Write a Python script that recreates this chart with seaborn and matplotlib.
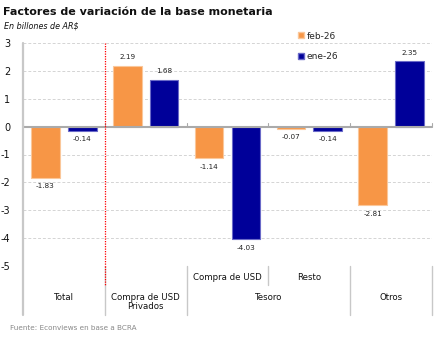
import matplotlib
matplotlib.use("Agg")
import matplotlib.pyplot as plt
import seaborn as sns
import pandas as pd
import numpy as np
from matplotlib.lines import Line2D

categories = ["Total", "Compra de USD Privados", "Tesoro: Compra de USD", "Tesoro: Resto", "Otros"]
feb_26 = [-1.83, 2.19, -1.14, -0.07, -2.81]
ene_26 = [-0.14, 1.68, -4.03, -0.14, 2.35]
series = ["feb-26", "ene-26"]
colors = {"feb-26": "#F79646", "ene-26": "#000099"}
edges = {"feb-26": "#FAC79A", "ene-26": "#6A6AC8"}
yticks = [3, 2, 1, 0, -1, -2, -3, -4, -5]

df = pd.DataFrame({
    "cat": categories * 2,
    "serie": [series[0]] * len(categories) + [series[1]] * len(categories),
    "val": feb_26 + ene_26,
})

sns.set_theme(style="white")
plt.rcParams['font.family'] = ['DejaVu Sans']

W, H = 443, 340
fig = plt.figure(figsize=(W / 100, H / 100), dpi=100)
ax = fig.add_axes([23 / W, 1 - 266 / H, (432 - 23) / W, (266 - 43) / H])

sns.barplot(data=df, x="cat", y="val", hue="serie", order=categories, hue_order=series,
            palette=colors, width=0.9, gap=0.22, ax=ax, legend=False, saturation=1,
            linewidth=0.8)

n = len(categories)
for i, p in enumerate(ax.patches[:2 * n]):
    p.set_edgecolor(edges[series[i // n]])

for i, p in enumerate(ax.patches[:2 * n]):
    v = p.get_height()
    xc = p.get_x() + p.get_width() / 2
    if v >= 0:
        ax.annotate(f"{v:.2f}", (xc, v), xytext=(0, 4), textcoords="offset points",
                    ha="center", va="bottom", fontsize=5.2, color="#222222")
    else:
        ax.annotate(f"{v:.2f}", (xc, v), xytext=(0, -4), textcoords="offset points",
                    ha="center", va="top", fontsize=5.2, color="#222222")

ax.set_xlim(-0.5, n - 0.5)
ax.set_ylim(-5, 3)
ax.set_yticks(yticks)
ax.set_yticklabels([str(t) for t in yticks], fontsize=7, color="#111111")
ax.tick_params(axis="y", length=3, width=0.8, color="#bbbbbb", pad=6)
ax.set_xticks([])
ax.set_xlabel("")
ax.set_ylabel("")
for t in yticks:
    if t != 0:
        ax.axhline(t, color="#d4d4d4", lw=0.7, ls=(0, (3, 2)), zorder=0)
ax.axhline(0, color="#aaaaaa", lw=1.5, zorder=3)
for sp in ["top", "right", "bottom", "left"]:
    ax.spines[sp].set_visible(False)

for b in np.arange(-0.5, n, 1.0):
    ax.plot([b, b], [0, 0.12], color="#aaaaaa", lw=0.8, zorder=3, clip_on=False)

ax.plot([0.5, 0.5], [3, -5], color="#ff0000", lw=0.9, ls=(0, (1, 1)), zorder=4, clip_on=False)

trans = ax.get_xaxis_transform()
px = 1 / (266 - 43)
ax.plot([-0.5, -0.5], [1, -49 * px], color="#c8c8c8", lw=1.6, transform=trans, clip_on=False, zorder=5)
for b in [0.5, 1.5, 3.5, 4.5]:
    ax.plot([b, b], [0, -49 * px], color="#c8c8c8", lw=1.0, transform=trans, clip_on=False)
ax.plot([0.5, 0.5], [0, -19 * px], color="#ff0000", lw=0.9, ls=(0, (1, 1)), transform=trans, clip_on=False)
ax.plot([2.5, 2.5], [0, -19 * px], color="#c8c8c8", lw=1.0, transform=trans, clip_on=False)

lab_fs = 6.2
ax.text(0, -31 * px, "Total", transform=trans, ha="center", va="center", fontsize=lab_fs, color="#111111")
ax.text(1, -36 * px, "Compra de USD\nPrivados", transform=trans, ha="center", va="center",
        fontsize=lab_fs, color="#111111", linespacing=1.1)
ax.text(2.5, -31 * px, "Tesoro", transform=trans, ha="center", va="center", fontsize=lab_fs, color="#111111")
ax.text(4, -31 * px, "Otros", transform=trans, ha="center", va="center", fontsize=lab_fs, color="#111111")
ax.text(2, -12 * px, "Compra de USD", transform=trans, ha="center", va="center", fontsize=lab_fs, color="#111111")
ax.text(3, -12 * px, "Resto", transform=trans, ha="center", va="center", fontsize=lab_fs, color="#111111")

handles = [Line2D([0], [0], marker="s", color="w", markerfacecolor=colors[s], markeredgecolor=edges[s],
                  markersize=5, label=s) for s in series]
fig.legend(handles=handles, loc="upper left", bbox_to_anchor=(294 / W, 1 - 27 / H), frameon=False,
           fontsize=6.5, handlelength=0.6, handletextpad=0.3, labelspacing=1.25, borderpad=0)

fig.text(3 / W, 1 - 12 / H, "Factores de variación de la base monetaria", fontsize=8, fontweight="bold",
         ha="left", va="center", color="#111111")
fig.text(4 / W, 1 - 26 / H, "En billones de AR$", fontsize=5.8, style="italic",
         ha="left", va="center", color="#111111")
fig.text(10 / W, 1 - 328 / H, "Fuente: Econviews en base a BCRA", fontsize=5.2,
         ha="left", va="center", color="#888888")

fig.savefig("out.png", dpi=100)
